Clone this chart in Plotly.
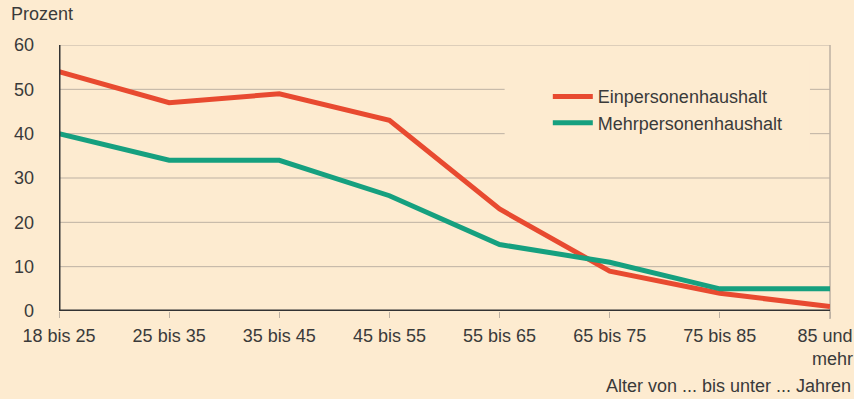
import plotly.graph_objects as go

categories = ["18 bis 25", "25 bis 35", "35 bis 45", "45 bis 55",
              "55 bis 65", "65 bis 75", "75 bis 85", "85 und mehr"]
tick_labels = ["18 bis 25", "25 bis 35", "35 bis 45", "45 bis 55",
               "55 bis 65", "65 bis 75", "75 bis 85",
               "85 und<span style='color:rgba(0,0,0,0)'>\u00a0\u00a0</span><br>\u00a0mehr"]
einpersonen = [54, 47, 49, 43, 23, 9, 4, 1]
mehrpersonen = [40, 34, 34, 26, 15, 11, 5, 5]
y_ticks = [0, 10, 20, 30, 40, 50, 60]

BG = "#FDEBD0"
RED = "#E84A30"
GREEN = "#16A07F"
GRID = "#BDB1A3"
TXT = "#3a3a3a"
FONT = "Liberation Sans, Arial, sans-serif"

x_idx = list(range(len(categories)))

fig = go.Figure()
fig.add_trace(go.Scatter(x=x_idx, y=einpersonen, mode="lines",
                         name="Einpersonenhaushalt",
                         line=dict(color=RED, width=5)))
fig.add_trace(go.Scatter(x=x_idx, y=mehrpersonen, mode="lines",
                         name="Mehrpersonenhaushalt",
                         line=dict(color=GREEN, width=5)))

# grid lines drawn as shapes so the legend area can cover them
shapes = []
for yv in y_ticks[1:]:
    shapes.append(dict(type="line", xref="paper", yref="y", x0=0, x1=1, y0=yv, y1=yv,
                       line=dict(color=GRID, width=1), layer="below"))
shapes += [
    # legend area cover (hides grid lines behind the legend)
    dict(type="rect", xref="paper", yref="y", x0=0.578, x1=0.974, y0=35.5, y1=56.5,
         fillcolor=BG, line=dict(width=0), layer="below"),
    # right border line
    dict(type="line", xref="paper", yref="paper", x0=1, x1=1, y0=-0.03, y1=1,
         line=dict(color=GRID, width=1.5), layer="below"),
    # bottom axis line
    dict(type="line", xref="paper", yref="y", x0=0, x1=1, y0=0, y1=0,
         line=dict(color="#333333", width=3), layer="below"),
    # left axis line
    dict(type="line", xref="x", yref="paper", x0=0, x1=0, y0=0, y1=1,
         line=dict(color="#333333", width=3), layer="above"),
]

fig.update_layout(
    width=854, height=399,
    paper_bgcolor=BG, plot_bgcolor=BG,
    margin=dict(l=59, r=24, t=45, b=88, autoexpand=False),
    font=dict(family=FONT, size=18, color=TXT),
    showlegend=True,
    legend=dict(x=0.634, y=0.875, xanchor="left", yanchor="top",
                bgcolor="rgba(0,0,0,0)", borderwidth=0,
                font=dict(family=FONT, size=18, color=TXT),
                tracegroupgap=0, itemwidth=40),
    xaxis=dict(
        range=[0, len(categories) - 1],
        tickmode="array", tickvals=x_idx, ticktext=tick_labels,
        showgrid=False, zeroline=False,
        showline=False, automargin=False,
        ticks="outside", ticklen=6, tickwidth=1, tickcolor=GRID,
        tickfont=dict(family=FONT, size=18, color=TXT),
        ticklabelstandoff=2,
        ticklabeloverflow="allow",
    ),
    yaxis=dict(
        range=[0, 60], automargin=False,
        tickmode="array", tickvals=y_ticks,
        showgrid=False,
        zeroline=False, showline=False, ticks="",
        tickfont=dict(family=FONT, size=18, color=TXT),
        ticklabelstandoff=24,
    ),
    shapes=shapes,
    annotations=[
        dict(text="Prozent", xref="paper", yref="paper", x=-0.065, y=1.07,
             xanchor="left", yanchor="bottom", showarrow=False,
             font=dict(family=FONT, size=18, color=TXT)),
        dict(text="Alter von ... bis unter ... Jahren", xref="paper", yref="paper",
             x=1.03, y=-0.235, xanchor="right", yanchor="top", showarrow=False,
             font=dict(family=FONT, size=18, color=TXT)),
    ],
)

fig.write_html("out.html")
